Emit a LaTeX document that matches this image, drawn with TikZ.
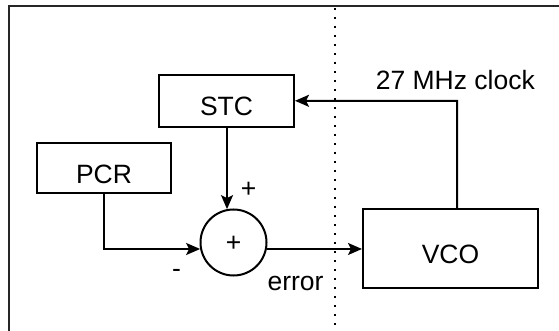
\documentclass[tikz,border=0pt]{standalone}
\usepackage{fontspec}
\setmainfont{Liberation Sans}
\usetikzlibrary{arrows.meta}
\begin{document}
\begin{tikzpicture}[x=1pt,y=-1pt,
  every node/.style={font=\fontsize{26.5}{30}\selectfont},
  blk/.style={draw, line width=2pt, inner sep=0pt, text height=30pt, text depth=0pt},
  lbl/.style={inner sep=0pt, anchor=base},
  arr/.style={line width=2pt, -{Stealth[length=14pt,width=12pt,inset=3pt]}},
  wire/.style={line width=2pt}]
\useasboundingbox (0,0) rectangle (559,331);
\draw[line width=2pt, black!85] (9,332) -- (9,6) -- (560,6);
\draw[line width=2pt, dash pattern=on 2pt off 7pt] (335,8) -- (335,331);
\node[blk, minimum width=135pt, minimum height=52pt] (STC) at (226.5,100.8) {STC};
\node[blk, minimum width=134pt, minimum height=50pt] (PCR) at (104,168) {PCR};
\node[blk, minimum width=175pt, minimum height=79pt] (VCO) at (450.5,248.5) {VCO};
\node[draw, circle, line width=2pt, inner sep=0pt, minimum size=66pt] (sum) at (233.5,242.5) {};
\node[lbl] (sumlbl) at (233.5,251.5) {+};
\coordinate (clk) at (457,101);
\draw[arr] (sum.101 |- STC.south) -- (sum.101);
\draw[arr] (PCR.south) |- (sum.191);
\draw[arr] (sum.-11) -- (sum.-11 -| VCO.west);
\draw[arr] (VCO.north -| clk) -- (clk) -- (STC.east);
\node[lbl] (plus) at (248.5,197.5) {+};
\node[lbl] (minus) at (176.5,277) {-};
\node[lbl] (err) at (295.5,290) {error};
\node[lbl] (clock) at (455.3,89.3) {27 MHz clock};
\end{tikzpicture}
\end{document}
